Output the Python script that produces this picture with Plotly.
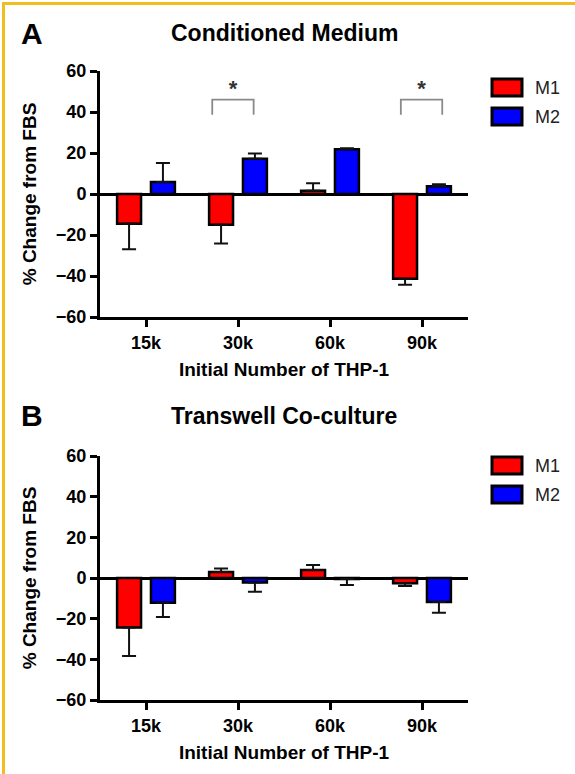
import plotly.graph_objects as go

W, H = 575, 774

categories = ["15k", "30k", "60k", "90k"]
series_names = ["M1", "M2"]
series_colors = ["#FF0000", "#0000FF"]

# Panel A: Conditioned Medium
a_m1 = [-14.5, -15.0, 1.6, -41.3]
a_m1_err = [12.5, 9.2, 3.6, 3.0]
a_m2 = [5.8, 17.2, 21.8, 3.8]
a_m2_err = [9.3, 2.5, 0.5, 1.0]

# Panel B: Transwell Co-culture
b_m1 = [-24.3, 2.9, 3.9, -2.6]
b_m1_err = [14.1, 1.8, 2.5, 1.3]
b_m2 = [-12.2, -2.2, -0.5, -11.8]
b_m2_err = [7.0, 4.6, 3.0, 5.3]

y_ticks = [-60, -40, -20, 0, 20, 40, 60]

# significance brackets (panel A), in data coordinates
sig_left = [0.72, 2.77]
sig_right = [1.17, 3.22]
sig_top = 46
sig_leg = 38.7
sig_star = 50.5

FONT = "Liberation Sans, Arial, sans-serif"

# plot-area box in page pixels
ML, MR, MT, MB = 100, W - 468, 71, H - 700
PW, PH = W - ML - MR, H - MT - MB


def px(x):
    return (x - ML) / PW


def py(y):
    return (H - MB - y) / PH


fig = go.Figure()


def err_dict(vals, errs):
    plus = [e if v >= 0 else 0 for v, e in zip(vals, errs)]
    minus = [e if v < 0 else 0 for v, e in zip(vals, errs)]
    return dict(type="data", symmetric=False, array=plus, arrayminus=minus,
                color="#111111", thickness=2, width=7)


xs = list(range(len(categories)))
panels = [
    ("x", "y", [(a_m1, a_m1_err), (a_m2, a_m2_err)]),
    ("x2", "y2", [(b_m1, b_m1_err), (b_m2, b_m2_err)]),
]
for xa, ya, ser in panels:
    for (vals, errs), name, col in zip(ser, series_names, series_colors):
        fig.add_trace(go.Bar(
            x=xs, y=vals, name=name, xaxis=xa, yaxis=ya,
            marker=dict(color=col, line=dict(color="black", width=2.5)),
            error_y=err_dict(vals, errs), showlegend=False,
        ))

# brackets
for l, r in zip(sig_left, sig_right):
    fig.add_trace(go.Scatter(
        x=[l, l, r, r], y=[sig_leg, sig_top, sig_top, sig_leg],
        mode="lines", line=dict(color="#8a8a8a", width=1.8),
        xaxis="x", yaxis="y", showlegend=False, hoverinfo="skip"))
    fig.add_trace(go.Scatter(
        x=[(l + r) / 2], y=[sig_star], mode="text", text=["*"],
        textfont=dict(family=FONT, size=22, color="#333333", weight="bold"),
        xaxis="x", yaxis="y", showlegend=False, hoverinfo="skip"))

ydomA = [py(317), 1]
ydomB = [0, py(456)]

axis_common = dict(showline=True, linecolor="black", linewidth=3,
                   ticks="outside", ticklen=7, tickwidth=3, tickcolor="black",
                   showgrid=False, zeroline=False, automargin=True,
                   tickfont=dict(family=FONT, size=18, color="black", weight="bold"))

for i, ydom in zip(["", "2"], [ydomA, ydomB]):
    fig.update_layout(**{
        "xaxis" + i: dict(axis_common, domain=[0, 1], range=[-0.5, 3.5],
                          tickvals=xs, ticktext=categories,
                          anchor="y" + i,
                          title=dict(text="Initial Number of THP-1", standoff=12,
                                     font=dict(family=FONT, size=19, color="black", weight="bold"))),
        "yaxis" + i: dict(axis_common, domain=ydom, range=[-60, 60],
                          tickvals=y_ticks, anchor="x" + i,
                          zeroline=True, zerolinecolor="black", zerolinewidth=3,
                          title=dict(text="% Change from FBS", standoff=15,
                                     font=dict(family=FONT, size=19, color="black", weight="bold"))),
    })

shapes = []
annotations = []
# legends drawn per panel
for top in [79, 457]:
    for k, (name, col) in enumerate(zip(series_names, series_colors)):
        y0 = top + k * 29
        shapes.append(dict(type="rect", xref="paper", yref="paper",
                           x0=px(492), x1=px(522), y0=py(y0 + 17), y1=py(y0),
                           fillcolor=col, line=dict(color="black", width=3)))
        annotations.append(dict(xref="paper", yref="paper", x=px(533), y=py(y0 + 8.5),
                                text=name, showarrow=False, xanchor="left", yanchor="middle",
                                font=dict(family=FONT, size=18, color="#222222")))

# panel titles and letters
for letter, title, yc in [("A", "Conditioned Medium", 33), ("B", "Transwell Co-culture", 416)]:
    annotations.append(dict(xref="paper", yref="paper", x=px(19), y=py(yc), text=letter,
                            showarrow=False, xanchor="left", yanchor="middle",
                            font=dict(family=FONT, size=30, color="black", weight="bold")))
    annotations.append(dict(xref="paper", yref="paper", x=px(284), y=py(yc), text=title,
                            showarrow=False, xanchor="center", yanchor="middle",
                            font=dict(family=FONT, size=23, color="black", weight="bold")))

# yellow frame (left and top)
gold = "#F3BD22"
shapes.append(dict(type="rect", xref="paper", yref="paper", x0=px(2), x1=px(5),
                   y0=py(H), y1=py(2), fillcolor=gold, line=dict(width=0)))
shapes.append(dict(type="rect", xref="paper", yref="paper", x0=px(2), x1=px(W),
                   y0=py(5), y1=py(2), fillcolor=gold, line=dict(width=0)))

fig.update_layout(
    width=W, height=H, margin=dict(l=ML, r=MR, t=MT, b=MB, pad=0),
    paper_bgcolor="white", plot_bgcolor="white",
    barmode="group", bargap=0.264, bargroupgap=0.293,
    shapes=shapes, annotations=annotations, showlegend=False,
    font=dict(family=FONT, color="black"),
)

post = (
    "var s=document.createElement('style');"
    "s.textContent='html,body{margin:0!important;padding:0!important;overflow:hidden;"
    "width:575px;height:774px;}';"
    "document.head.appendChild(s);"
    "var d=document.getElementById('{plot_id}');"
    "d.style.position='fixed';d.style.left='0px';d.style.top='0px';"
)

fig.write_html("out.html", config={"displayModeBar": False}, post_script=post)
